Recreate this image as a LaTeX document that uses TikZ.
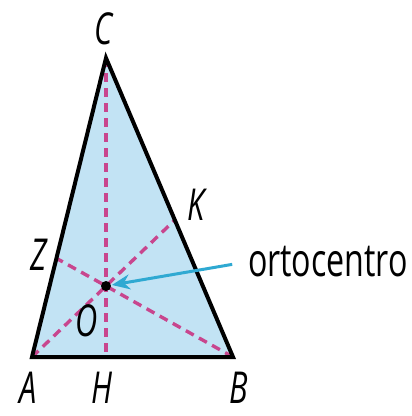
\documentclass[tikz,border=0pt]{standalone}
\usepackage{fontspec}
\usetikzlibrary{arrows.meta}
\newfontfamily\lblfont[FakeStretch=0.7]{Open Sans}
\definecolor{trifill}{HTML}{C2E3F4}
\definecolor{altcol}{HTML}{C8468E}
\definecolor{arrcol}{HTML}{2FA9D2}
\begin{document}
\begin{tikzpicture}[x=1pt,y=-1pt,line width=4pt,
    altline/.style={altcol,dash pattern=on 9pt off 6pt,line width=3.4pt},
    vlabel/.style={font=\lblfont\itshape\fontsize{44}{44}\selectfont,inner sep=0pt}]
\useasboundingbox (0,0) rectangle (412,416);
% vertices and orthocentre
\coordinate (A) at (32,357);
\coordinate (B) at (233,357);
\coordinate (C) at (106,58);
\coordinate (H) at (106,357);
\coordinate (O) at (106,286);
\coordinate (Z) at (intersection of B--O and A--C);
\coordinate (K) at (intersection of A--O and B--C);
\fill[trifill] (A) -- (B) -- (C) -- cycle;
\draw[altline] (C) -- (H);
\draw[altline] (A) -- (K);
\draw[altline] (B) -- (Z);
\draw[line join=miter] (A) -- (B) -- (C) -- cycle;
\fill (O) circle (5);
% labels
\node[vlabel] (lC) at (104,29) {C};
\node[vlabel] (lZ) at (39,255) {Z};
\node[vlabel] (lK) at (196,205) {K};
\node[vlabel] (lO) at (87,321) {O};
\node[vlabel] (lA) at (28,388) {A};
\node[vlabel] (lH) at (102,388) {H};
\node[vlabel] (lB) at (239,388) {B};
\node[font=\lblfont\fontsize{46}{46}\selectfont,inner sep=0pt,anchor=west] (orto) at (246,262) {ortocentro};
\draw[arrcol,line width=3pt,-{Stealth[length=18pt,width=15pt]},shorten <=14pt,shorten >=6pt] (orto.west) -- (O);
\end{tikzpicture}
\end{document}
